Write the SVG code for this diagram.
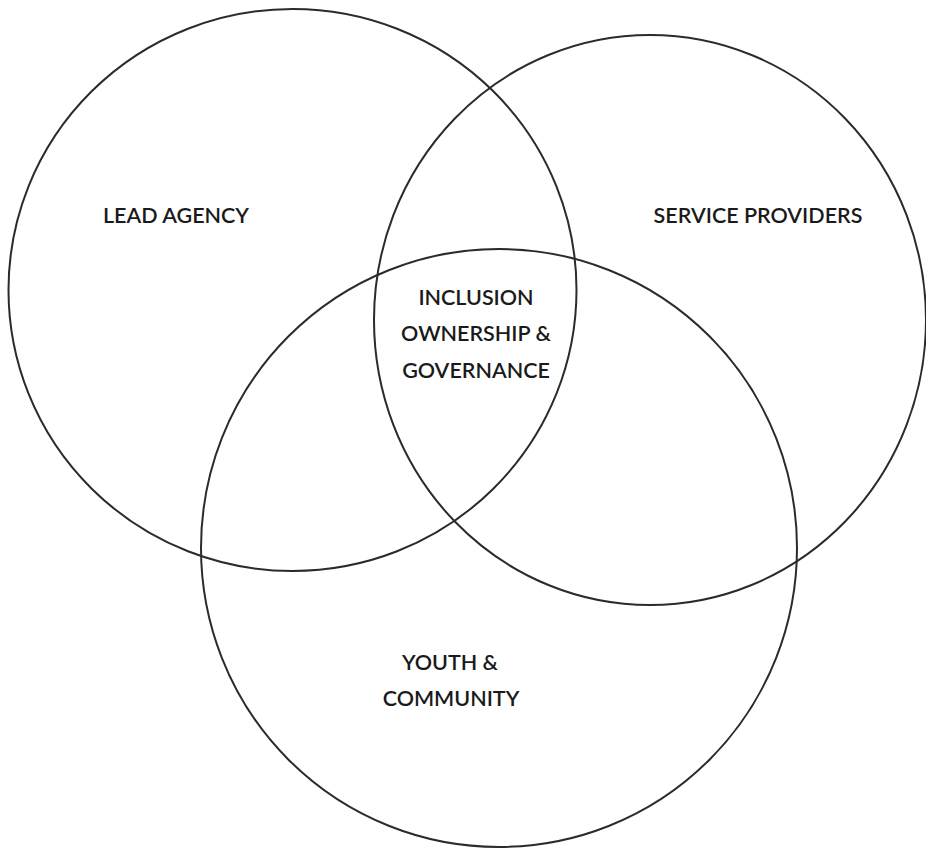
<svg xmlns="http://www.w3.org/2000/svg" width="926" height="850" viewBox="0 0 926 850">
  <style>
    .ring { fill: none; stroke: #2b2b2b; stroke-width: 2; }
    .label { font-family: "Lato", "Liberation Sans", Arial, sans-serif; font-size: 21.5px; font-weight: 600; fill: #1a1a1a; text-anchor: middle; }
  </style>
  <rect width="926" height="850" fill="#ffffff"/>

  <!-- Three overlapping sets -->
  <g id="lead-agency">
    <ellipse class="ring" cx="292.5" cy="290" rx="284" ry="281"/>
    <text class="label" x="176" y="223">LEAD AGENCY</text>
  </g>
  <g id="service-providers">
    <ellipse class="ring" cx="650" cy="320" rx="276" ry="285"/>
    <text class="label" x="758" y="223">SERVICE PROVIDERS</text>
  </g>
  <g id="youth-community">
    <ellipse class="ring" cx="499" cy="548" rx="298" ry="299"/>
    <text class="label" x="450" y="670">YOUTH &amp;</text>
    <text class="label" x="451" y="706">COMMUNITY</text>
  </g>

  <!-- Shared centre of all three sets -->
  <g id="inclusion">
    <text class="label" x="476" y="305">INCLUSION</text>
    <text class="label" x="476" y="341">OWNERSHIP &amp;</text>
    <text class="label" x="476" y="378">GOVERNANCE</text>
  </g>
</svg>
